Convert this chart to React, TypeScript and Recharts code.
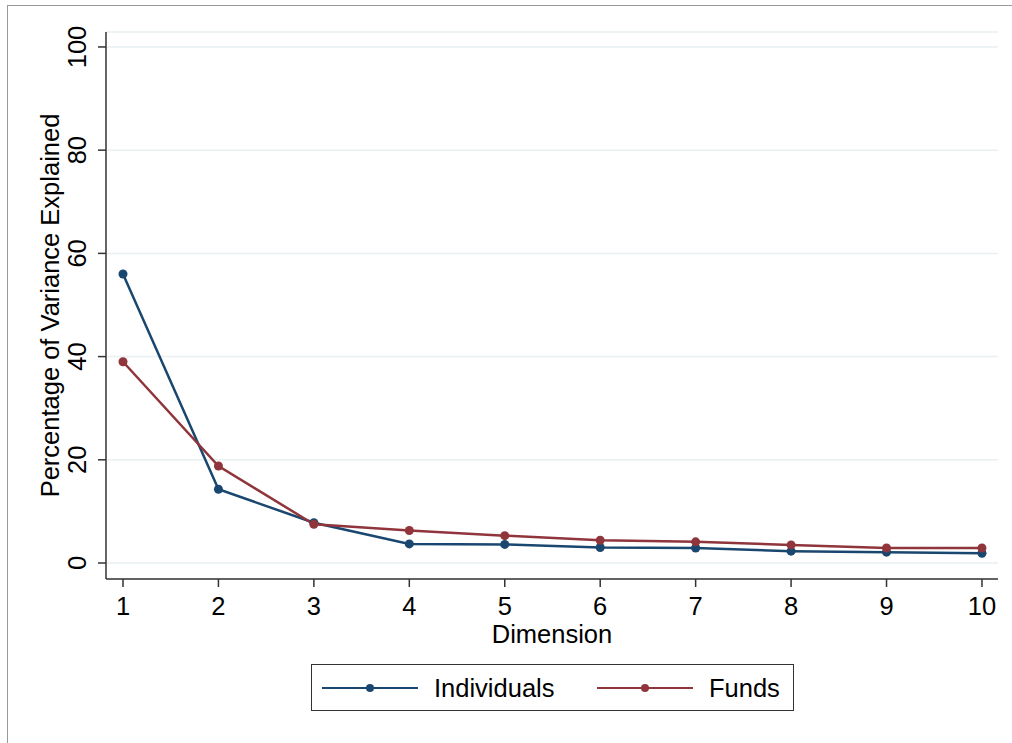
import React from 'react';
import { LineChart, Line, XAxis, YAxis, CartesianGrid, Legend } from 'recharts';

const dimensions = [1, 2, 3, 4, 5, 6, 7, 8, 9, 10];
const individuals = [56.0, 14.3, 7.8, 3.7, 3.6, 3.0, 2.9, 2.3, 2.1, 1.9];
const funds = [39.0, 18.8, 7.5, 6.3, 5.3, 4.4, 4.1, 3.5, 2.9, 2.9];
const yTicks = [0, 20, 40, 60, 80, 100];
const xTicks = [1, 2, 3, 4, 5, 6, 7, 8, 9, 10];
const seriesNames = ['Individuals', 'Funds'];

const data = dimensions.map((d, i) => ({ dim: d, individuals: individuals[i], funds: funds[i] }));

const FONT = '"Liberation Sans", Arial, Helvetica, sans-serif';
const NAVY = '#1a476f';
const MAROON = '#90353b';
const AXIS = '#333333';
const FS = 25.5;

const YTick = (props: any) => {
  const { x, y, payload } = props;
  const bx = x - 10;
  return (
    <text x={bx} y={y} transform={`rotate(-90 ${bx} ${y})`} textAnchor="middle" fontSize={FS} fontFamily={FONT} fill="#000">
      {payload.value}
    </text>
  );
};

const XTick = (props: any) => {
  const { x, y, payload } = props;
  return (
    <text x={x} y={y + 26} textAnchor="middle" fontSize={FS} fontFamily={FONT} fill="#000">
      {payload.value}
    </text>
  );
};

const LegendContent = (props: any) => {
  const payload = [...(props.payload || [])].sort(
    (a: any, b: any) => seriesNames.indexOf(a.value) - seriesNames.indexOf(b.value)
  );
  return (
    <div style={{ width: 483, height: 47, border: '1px solid #333', boxSizing: 'border-box', background: '#fff', position: 'relative' }}>
      <svg width={481} height={45} style={{ position: 'absolute', left: 0, top: 0 }}>
        {payload.map((p: any, i: number) => {
          const x0 = 10 + i * 275;
          return (
            <g key={i}>
              <line x1={x0} y1={23} x2={x0 + 96} y2={23} stroke={p.color} strokeWidth={2} />
              <circle cx={x0 + 48} cy={23} r={4} fill={p.color} />
              <text x={x0 + 112} y={32} fontSize={FS} fontFamily={FONT} fill="#000">{p.value}</text>
            </g>
          );
        })}
      </svg>
    </div>
  );
};

export default function App() {
  return (
    <div style={{ position: 'absolute', left: 0, top: 0, width: 1012, height: 743, background: '#fff', overflow: 'hidden' }}>
      <div style={{ position: 'absolute', left: 7, top: 5, width: 1010, height: 745, borderTop: '1.5px solid #999', borderLeft: '1.5px solid #999' }} />
      <LineChart
        width={1012}
        height={743}
        data={data}
        margin={{ top: 32, right: 14, left: 46, bottom: 134 }}
        style={{ position: 'absolute', left: 0, top: 0 }}
      >
        <CartesianGrid vertical={false} stroke="#e8f0f2" strokeWidth={1.5} />
        <XAxis
          dataKey="dim"
          type="number"
          domain={[0.822, 10.168]}
          ticks={xTicks}
          allowDataOverflow
          height={30}
          stroke={AXIS}
          strokeWidth={1.5}
          tickSize={8}
          tick={<XTick />}
          interval={0}
          label={(p: any) => {
            const vb = p.viewBox || {};
            return (
              <text x={vb.x + vb.width / 2} y={643} textAnchor="middle" fontSize={FS} fontFamily={FONT} fill="#000">
                Dimension
              </text>
            );
          }}
        />
        <YAxis
          type="number"
          domain={[-3.1, 102.9]}
          ticks={yTicks}
          allowDataOverflow
          width={60}
          stroke={AXIS}
          strokeWidth={1.5}
          tickSize={8}
          tick={<YTick />}
          interval={0}
          label={(p: any) => {
            const vb = p.viewBox || {};
            const cy = vb.y + vb.height / 2;
            return (
              <text x={59} y={cy} transform={`rotate(-90 59 ${cy})`} textAnchor="middle" fontSize={FS} fontFamily={FONT} fill="#000">
                Percentage of Variance Explained
              </text>
            );
          }}
        />
        <Legend
          layout="horizontal"
          verticalAlign="middle"
          align="center"
          content={<LegendContent />}
          wrapperStyle={{ left: 311, top: 664, width: 483, height: 47 }}
        />
        <Line
          name="Individuals"
          dataKey="individuals"
          stroke={NAVY}
          strokeWidth={2.5}
          dot={{ r: 4.5, fill: NAVY, stroke: NAVY, strokeWidth: 0 }}
          activeDot={false}
          isAnimationActive={false}
        />
        <Line
          name="Funds"
          dataKey="funds"
          stroke={MAROON}
          strokeWidth={2.5}
          dot={{ r: 4.5, fill: MAROON, stroke: MAROON, strokeWidth: 0 }}
          activeDot={false}
          isAnimationActive={false}
        />
      </LineChart>
    </div>
  );
}
